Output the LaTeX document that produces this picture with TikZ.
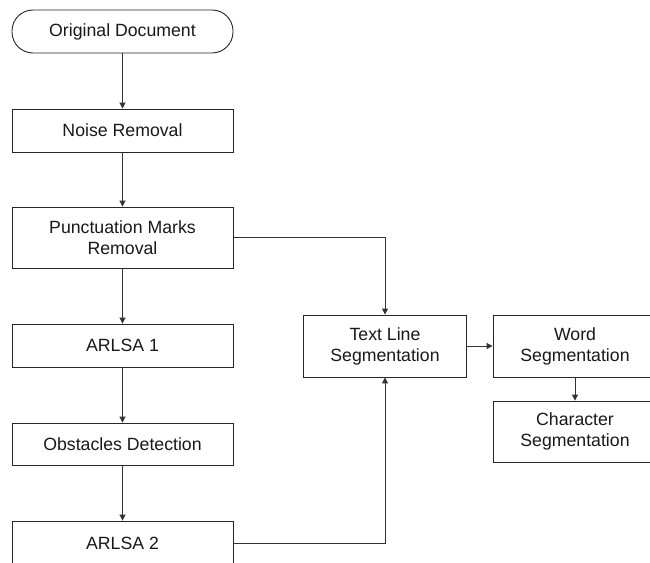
\documentclass[tikz,border=0pt]{standalone}
\usepackage{fontspec}
\setmainfont{Liberation Sans}
\usetikzlibrary{arrows.meta}
\begin{document}
\begin{tikzpicture}[x=1pt,y=-1pt,
  box/.style={draw=black!85, line width=0.9pt, fill=white, inner sep=0pt, align=center,
    font=\fontsize{17.7}{21}\selectfont, text=black!90},
  term/.style={box, rounded corners=21pt},
  conn/.style={draw=black!80, line width=1pt, -{Triangle[width=6pt,length=6pt]}}]
\useasboundingbox (0,0) rectangle (650,562);
\clip (0,0) rectangle (650,562);
\node[term, minimum width=221pt, minimum height=43pt] (orig) at (122.5,31.5) {Original Document};
\node[box, minimum width=221pt, minimum height=43pt] (noise) at (122.5,130.5) {Noise Removal};
\node[box, minimum width=221pt, minimum height=61pt] (punct) at (122.5,237.5) {Punctuation Marks\\Removal};
\node[box, minimum width=221pt, minimum height=43pt] (arl1) at (122.5,345.5) {ARLSA 1};
\node[box, minimum width=221pt, minimum height=42pt] (obst) at (122.5,444) {Obstacles Detection};
\node[box, minimum width=221pt, minimum height=44pt] (arl2) at (122.5,543) {ARLSA 2};
\node[box, minimum width=163pt, minimum height=62pt] (tls) at (385,346) {Text Line\\Segmentation};
\node[box, minimum width=164pt, minimum height=62pt] (ws) at (575,346) {Word\\Segmentation};
\node[box, minimum width=164pt, minimum height=61pt] (cs) at (575,431.5) {Character\\Segmentation};
\draw[conn] (orig) -- (noise);
\draw[conn] (noise) -- (punct);
\draw[conn] (punct) -- (arl1);
\draw[conn] (arl1) -- (obst);
\draw[conn] (obst) -- (arl2);
\draw[conn] (punct.east) -| (tls.north);
\draw[conn] (arl2.east) -| (tls.south);
\draw[conn] (tls) -- (ws);
\draw[conn] (ws) -- (cs);
\end{tikzpicture}
\end{document}
